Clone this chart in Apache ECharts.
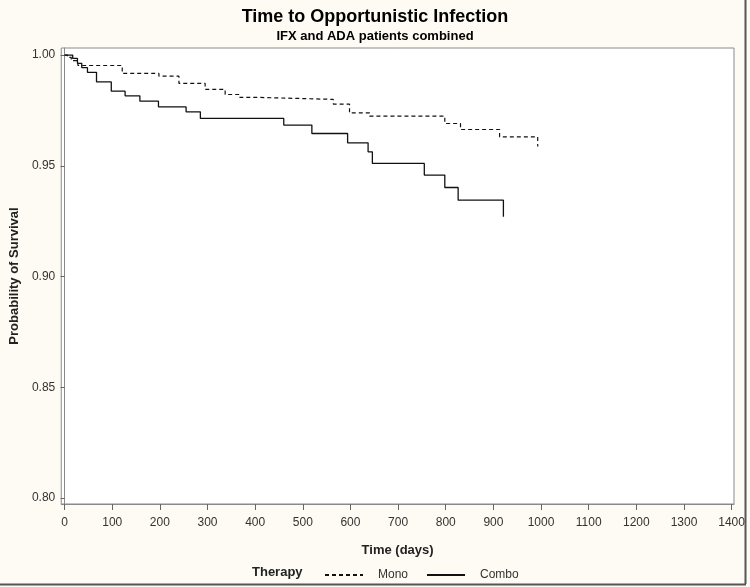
<!DOCTYPE html>
<html>
<head>
<meta charset="utf-8">
<script src="https://cdn.jsdelivr.net/npm/echarts@6/dist/echarts.min.js"></script>
<style>
	html, body { margin: 0; padding: 0; background: #fdfbf3; }
	#chart { width: 750px; height: 587px; }
</style>
</head>
<body>
<div id="chart"></div>
<script>
// 刻度
var xTicks = [0, 100, 200, 300, 400, 500, 600, 700, 800, 900, 1000, 1100, 1200, 1300, 1400];
var yTicks = [0.80, 0.85, 0.90, 0.95, 1.00];

// Mono: [days, survival]
var monoData = [
	[0, 1.0], [6, 0.9990], [14, 0.9975], [28, 0.9953], [121, 0.9917], [198, 0.9905],
	[240, 0.9872], [295, 0.9845], [337, 0.9822], [368, 0.9809], [407, 0.9800],
	[564, 0.9779], [598, 0.9739], [640, 0.9724], [798, 0.9691], [831, 0.9664],
	[913, 0.9631], [993, 0.9587]
];
// Combo: [days, survival]
var comboData = [
	[0, 1.0], [17, 0.9985], [27, 0.9963], [36, 0.9943], [48, 0.9922], [67, 0.9879],
	[98, 0.9837], [127, 0.9816], [158, 0.9792], [197, 0.9766], [255, 0.9744],
	[285, 0.9714], [460, 0.9684], [519, 0.9646], [594, 0.9604], [637, 0.9563],
	[646, 0.9511], [755, 0.9458], [798, 0.9402], [826, 0.9345], [921, 0.9270]
];

var font = "'Liberation Sans', Arial, sans-serif";

var myChart = echarts.init(document.getElementById('chart'));
var option = {
	backgroundColor: '#fdfbf3',
	animation: false,
	title: [
		{
			text: 'Time to Opportunistic Infection',
			left: 'center', top: 3,
			textStyle: { fontFamily: font, fontSize: 18, fontWeight: 'bold', color: '#000' }
		},
		{
			text: 'IFX and ADA patients combined',
			left: 'center', top: 25,
			textStyle: { fontFamily: font, fontSize: 13, fontWeight: 'bold', color: '#000' }
		}
	],
	grid: {
		left: 59, right: 16, top: 48, bottom: 83,
		show: true, backgroundColor: '#fff', borderColor: '#8a8a8a', borderWidth: 1
	},
	legend: {
		left: 319, top: 564,
		itemWidth: 38, itemHeight: 10, itemGap: 18,
		data: ['Mono', 'Combo'],
		itemStyle: { opacity: 0 },
		textStyle: { fontFamily: font, fontSize: 12, color: '#333', padding: [0, 0, 0, 10] }
	},
	graphic: [
		{ type: 'text', left: 252, top: 566,
			style: { text: 'Therapy', font: 'bold 13px ' + font, fill: '#222' } },
		{ type: 'line', shape: { x1: 745.5, y1: 0, x2: 745.5, y2: 584 }, style: { stroke: '#555', lineWidth: 2 } },
		{ type: 'line', shape: { x1: 0, y1: 584.5, x2: 746, y2: 584.5 }, style: { stroke: '#555', lineWidth: 2 } }
	],
	xAxis: {
		type: 'value', min: -7, max: 1405,
		name: 'Time (days)', nameLocation: 'middle', nameGap: 40,
		nameTextStyle: { fontFamily: font, fontSize: 13, fontWeight: 'bold', color: '#222' },
		axisLine: { lineStyle: { color: '#8a8a8a' } },
		axisTick: { customValues: xTicks, length: 6, lineStyle: { color: '#666' } },
		axisLabel: {
			customValues: xTicks, margin: 13, fontFamily: font, fontSize: 12, color: '#333',
			formatter: function(v) { return String(v); }
		},
		splitLine: { show: false }
	},
	yAxis: {
		type: 'value', min: 0.7973, max: 1.0032,
		name: 'Probability of Survival', nameLocation: 'middle', nameGap: 40,
		nameTextStyle: { fontFamily: font, fontSize: 13, fontWeight: 'bold', color: '#222' },
		axisLine: { show: true, lineStyle: { color: '#8a8a8a' } },
		axisTick: { show: true, customValues: yTicks, length: 4, lineStyle: { color: '#666' } },
		axisLabel: {
			customValues: yTicks, margin: 6, fontFamily: font, fontSize: 12, color: '#333',
			formatter: function(v) { return v.toFixed(2); }
		},
		splitLine: { show: false }
	},
	series: [
		{
			name: 'Mono', type: 'line', step: 'end', data: monoData,
			symbol: 'none',
			lineStyle: { color: '#111', width: 1.2, type: [4, 3] },
			itemStyle: { color: '#111' }
		},
		{
			name: 'Combo', type: 'line', step: 'end', data: comboData,
			symbol: 'none',
			lineStyle: { color: '#111', width: 1.3, type: 'solid' },
			itemStyle: { color: '#111' }
		}
	]
};
myChart.setOption(option);
</script>
</body>
</html>
